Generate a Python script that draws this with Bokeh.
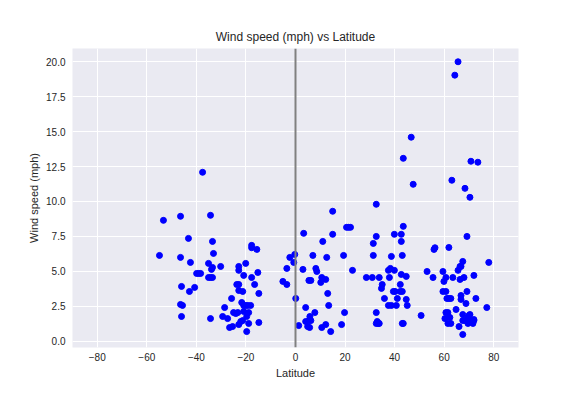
from bokeh.plotting import figure
from bokeh.models import Range1d, FixedTicker, Span, NumeralTickFormatter
from bokeh.embed import file_html
from bokeh.resources import INLINE

title = "Wind speed (mph) vs Latitude"
x_label = "Latitude"
y_label = "Wind speed (mph)"
x_ticks = [-80, -60, -40, -20, 0, 20, 40, 60, 80]
y_ticks = [0.0, 2.5, 5.0, 7.5, 10.0, 12.5, 15.0, 17.5, 20.0]

# Southern hemisphere cities
lat_south = [-37.5, -53.3, -46.4, -34.3, -43.2, -33.5, -33.1, -54.9, -46.4, -42.4,
             -35.1, -33.5, -33.9, -30.2, -39.9, -39.1, -38.3, -35.1, -34.3, -33.5,
             -46.0, -40.7, -42.8, -46.4, -45.6, -46.0, -34.3,
             -22.9, -22.9, -20.1, -17.7, -17.7, -15.6, -15.2, -20.9, -17.7, -23.7,
             -22.9, -16.5, -22.9, -21.3, -14.8, -25.8, -21.7, -20.9, -20.1, -19.3,
             -18.1, -28.6, -25.0, -24.1, -23.3, -20.9, -18.9, -29.4, -27.4, -19.7,
             -21.3, -22.1, -22.9, -18.9, -14.8, -26.6, -25.4, -19.7,
             -5.1, -3.5, -3.5, -2.3, -0.3, -0.7]
wind_south = [12.09, 8.65, 8.94, 9.01, 7.36, 7.14, 6.28, 6.14, 6.00, 5.64,
              5.57, 5.28, 5.14, 5.35, 4.85, 4.85, 4.85, 4.56, 4.56, 4.56,
              3.92, 3.85, 3.56, 2.63, 2.56, 1.77, 1.62,
              5.35, 5.07, 5.57, 6.86, 6.69, 6.57, 4.92, 4.71, 4.56, 4.06,
              4.06, 4.06, 3.63, 3.56, 3.42, 3.06, 2.77, 2.56, 2.56, 2.56,
              2.56, 2.41, 2.05, 1.98, 2.05, 2.13, 2.05, 1.77, 1.62, 1.77,
              1.48, 1.41, 1.19, 1.27, 1.34, 0.98, 1.05, 0.69,
              4.28, 4.06, 5.21, 6.00, 6.21, 5.64]

# Northern hemisphere cities
lat_north = [65.6, 64.3, 46.7, 43.5, 70.8, 73.6, 63.1, 47.5, 68.4, 70.4,
             32.6, 15.0, 20.6, 21.4, 22.2, 43.5, 3.3, 15.0, 32.6, 39.9,
             42.7, 69.2, 11.0, 31.4, 42.7, 55.9, 56.3, 61.9, 7.0, 12.6,
             19.4, 31.4, 38.7, 43.1, 3.0, 8.2, 8.6, 23.0, 37.5, 38.3,
             39.9, 53.1, 59.5, 65.6, 66.4, 66.8, 67.5, 78.0, 5.4, 6.2,
             10.6, 12.2, 10.2, 28.6, 31.0, 33.8, 37.9, 42.7, 44.7, 55.5,
             60.7, 59.9, 63.5, 66.4, 68.0, 72.0, 13.0, 35.0, 34.7, 42.3,
             39.5, 40.2, 42.3, 43.1, 59.5, 60.7, 69.2, 0.1, 35.9, 41.1,
             44.7, 61.1, 61.9, 62.7, 66.8, 66.8, 72.8, 13.4, 37.5, 38.7,
             40.7, 45.1, 68.8, 4.1, 64.8, 77.2, 7.8, 19.8, 32.6, 50.7,
             60.7, 61.5, 67.5, 70.0, 70.4, 5.8, 4.1, 5.4, 6.2, 60.3,
             62.3, 67.5, 68.4, 69.6, 70.0, 72.0, 72.0, 32.6, 33.4, 33.8,
             33.0, 43.1, 43.5, 61.5, 62.7, 69.6, 71.6, 1.3, 4.9, 5.7,
             10.6, 12.2, 18.6, 14.2, 66.0, 67.5]
wind_north = [20.00, 19.04, 14.60, 13.09, 12.88, 12.81, 11.52, 11.23, 10.94, 10.30,
              9.80, 9.30, 8.15, 8.15, 8.15, 8.22, 7.72, 7.65, 7.50, 7.65,
              7.65, 7.50, 7.14, 7.00, 7.14, 6.57, 6.69, 6.71, 6.14, 6.00,
              6.14, 6.14, 6.07, 6.14, 5.14, 5.21, 4.99, 5.07, 5.07, 5.21,
              5.07, 4.99, 4.99, 5.07, 5.35, 5.35, 5.71, 5.64, 4.35, 4.35,
              4.56, 4.42, 4.21, 4.56, 4.56, 4.56, 4.56, 4.78, 4.64, 4.56,
              4.56, 4.28, 4.56, 4.42, 4.56, 4.71, 3.42, 4.06, 3.78, 4.06,
              3.56, 3.56, 3.56, 3.56, 3.56, 3.56, 3.56, 3.06, 3.06, 3.06,
              2.99, 3.06, 3.06, 3.06, 3.27, 2.99, 3.06, 2.56, 2.56, 2.56,
              2.56, 2.56, 2.70, 2.41, 2.27, 2.41, 2.05, 2.05, 2.05, 1.84,
              2.05, 2.05, 1.91, 1.84, 1.91, 1.77, 1.41, 1.48, 1.48, 1.62,
              1.70, 1.48, 1.48, 1.70, 1.48, 1.48, 1.55, 1.27, 1.27, 1.27,
              1.41, 1.27, 1.27, 1.27, 1.27, 1.27, 1.27, 1.12, 1.05, 0.98,
              0.98, 1.19, 1.19, 0.69, 1.05, 0.48]

lat = lat_south + lat_north
wind = wind_south + wind_north

FONT = "Liberation Sans"
TXT = "#262626"

p = figure(width=568, height=388, output_backend="svg", toolbar_location=None,
           x_range=Range1d(-90, 90), y_range=Range1d(-0.45, 20.95),
           min_border_left=72, min_border_right=50, min_border_top=48, min_border_bottom=41)

p.background_fill_color = "#EAEAF2"
p.border_fill_color = "white"
p.outline_line_color = None

p.title.text = title
p.title.align = "center"
p.title.text_font = FONT
p.title.text_font_size = "12px"
p.title.text_font_style = "normal"
p.title.text_color = TXT
p.title.offset = 0

for g in (p.xgrid[0], p.ygrid[0]):
    g.grid_line_color = "white"
    g.grid_line_width = 1

p.xaxis.ticker = FixedTicker(ticks=x_ticks)
p.xaxis.major_label_overrides = {t: (str(t).replace("-", "\u2212")) for t in x_ticks}
p.yaxis.ticker = FixedTicker(ticks=y_ticks)
p.yaxis.formatter = NumeralTickFormatter(format="0.0")
p.xaxis.axis_label = x_label
p.yaxis.axis_label = y_label

for ax in (p.xaxis[0], p.yaxis[0]):
    ax.axis_line_color = None
    ax.major_tick_line_color = None
    ax.minor_tick_line_color = None
    ax.major_tick_out = 0
    ax.major_tick_in = 0
    ax.minor_tick_out = 0
    ax.minor_tick_in = 0
    ax.major_label_text_font = FONT
    ax.major_label_text_font_size = "10px"
    ax.major_label_text_color = TXT
    ax.axis_label_text_font = FONT
    ax.axis_label_text_font_size = "11px"
    ax.axis_label_text_font_style = "normal"
    ax.axis_label_text_color = TXT

p.xaxis[0].major_label_standoff = 5
p.xaxis[0].axis_label_standoff = 3
p.yaxis[0].major_label_standoff = 7
p.yaxis[0].axis_label_standoff = 3

p.add_layout(Span(location=0, dimension="height", line_color="#808080", line_width=2))

p.scatter(lat, wind, size=6, fill_color="blue", line_color="blue")

open("out.html", "w").write(file_html(p, INLINE))
